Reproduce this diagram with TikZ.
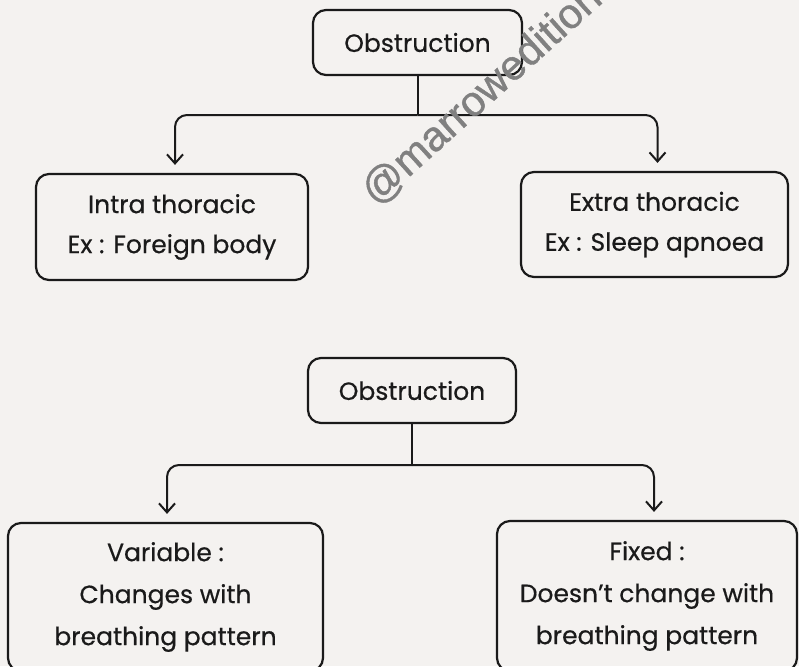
\documentclass[tikz,border=0pt]{standalone}
\usepackage{fontspec}
\setmainfont{Poppins}[FakeBold=0.5]
\newfontfamily\markfont{Liberation Sans}[FakeBold=1]
\usetikzlibrary{arrows.meta}
\definecolor{paper}{HTML}{F4F2F0}
\definecolor{ink}{HTML}{1A1A1A}
\begin{document}
\begin{tikzpicture}[x=1pt,y=-1pt,
  box/.style={draw=ink, line width=2.2pt, rounded corners=13pt, align=center,
    inner sep=0pt, text=ink, font=\fontsize{25}{40}\selectfont},
  wire/.style={draw=ink, line width=2pt},
  link/.style={wire, rounded corners=12pt,
    -{Straight Barb[length=9pt,width=16pt,line width=2pt]}, shorten >=8pt}]
\useasboundingbox (0,0) rectangle (799,666);
\clip (0,0) rectangle (799,666);
\fill[paper] (0,0) rectangle (799,666);

% upper tree: site of the obstruction
\node[box, minimum width=209pt, minimum height=65pt] (obsA) at (417.5,42.5) {Obstruction};
\node[box, minimum width=272pt, minimum height=106pt] (intra) at (172,227)
  {Intra thoracic\\Ex : Foreign body};
\node[box, minimum width=267pt, minimum height=105pt] (extra) at (654.5,224.5)
  {Extra thoracic\\Ex : Sleep apnoea};
\coordinate (jA) at (417.5,115);
\draw[wire] (obsA.south) -- (jA);
\draw[link] (jA) -| ([xshift=3pt]intra.north);
\draw[link] (jA) -| ([xshift=3pt]extra.north);

% lower tree: behaviour with breathing
\node[box, minimum width=208pt, minimum height=65pt] (obsB) at (412,390.5) {Obstruction};
\node[box, minimum width=315pt, minimum height=148pt,
  font=\fontsize{25}{42}\selectfont] (var) at (165.5,597)
  {Variable :\\Changes with\\breathing pattern};
\node[box, minimum width=300pt, minimum height=150pt,
  font=\fontsize{25}{42}\selectfont] (fixed) at (647,596)
  {Fixed :\\Doesn’t change with\\breathing pattern};
\coordinate (jB) at (412,465);
\draw[wire] (obsB.south) -- (jB);
\draw[link] (jB) -| ([xshift=1.5pt]var.north);
\draw[link] (jB) -| ([xshift=7pt]fixed.north);

% watermark
\node[text=black!50, rotate=42, font=\markfont\fontsize{42}{42}\selectfont]
  (mark) at (482,95) {@marrowedition};
\end{tikzpicture}
\end{document}
